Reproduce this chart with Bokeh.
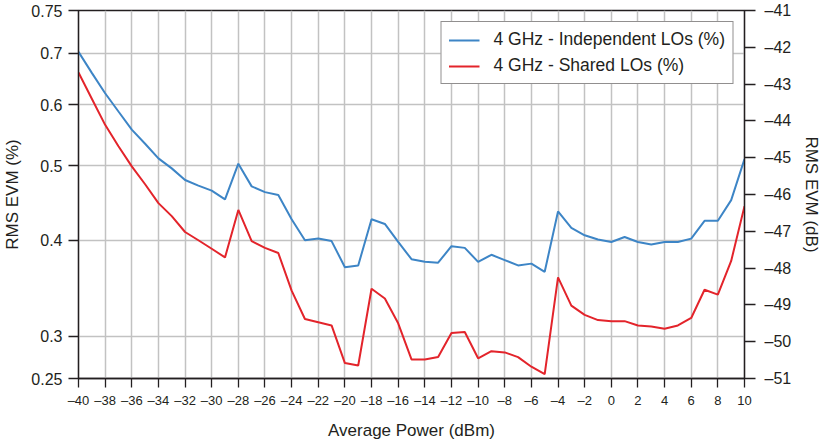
from bokeh.plotting import figure
from bokeh.models import (Range1d, LinearAxis, FixedTicker, CustomJSTickFormatter,
                          Legend, LegendItem, LinearScale, ColumnDataSource)
from bokeh.embed import file_html
from bokeh.resources import INLINE

# ---------------- data ----------------
power_dbm = list(range(-40, 11))
independent_los = [0.703, 0.660, 0.621, 0.588, 0.557, 0.534, 0.511, 0.496, 0.479, 0.471,
                   0.464, 0.452, 0.503, 0.470, 0.462, 0.458, 0.426, 0.400, 0.402, 0.399,
                   0.369, 0.371, 0.426, 0.420, 0.398, 0.378, 0.375, 0.374, 0.393, 0.391,
                   0.375, 0.383, 0.377, 0.371, 0.373, 0.364, 0.436, 0.415, 0.406, 0.401,
                   0.398, 0.404, 0.398, 0.395, 0.398, 0.398, 0.402, 0.424, 0.424, 0.451,
                   0.510]
shared_los = [0.661, 0.611, 0.565, 0.530, 0.499, 0.473, 0.447, 0.430, 0.410, 0.400,
              0.390, 0.380, 0.438, 0.399, 0.391, 0.385, 0.344, 0.316, 0.313, 0.310,
              0.277, 0.275, 0.346, 0.336, 0.312, 0.280, 0.280, 0.282, 0.303, 0.304,
              0.281, 0.287, 0.286, 0.282, 0.274, 0.268, 0.358, 0.329, 0.320, 0.315,
              0.314, 0.314, 0.310, 0.309, 0.307, 0.310, 0.317, 0.345, 0.340, 0.376,
              0.443]
series_names = ["4 GHz - Independent LOs (%)", "4 GHz - Shared LOs (%)"]

x_ticks = list(range(-40, 11, 2))
left_tick_values = [0.2645, 0.3, 0.4, 0.5, 0.6, 0.7, 0.7955]
left_tick_labels = ["0.25", "0.3", "0.4", "0.5", "0.6", "0.7", "0.75"]
right_ticks = list(range(-51, -40))

FONT = "Liberation Sans"
BLUE = "#3d85c6"
RED = "#e3242b"
DARK = "#231f20"

p = figure(width=827, height=442, y_axis_type="log",
           x_range=Range1d(-40, 10), y_range=Range1d(left_tick_values[0], left_tick_values[-1]),
           output_backend="svg", toolbar_location=None,
           min_border_left=77, min_border_right=83, min_border_top=10, min_border_bottom=62)
p.extra_y_ranges = {"db": Range1d(right_ticks[0], right_ticks[-1])}
p.extra_y_scales = {"db": LinearScale()}

src = ColumnDataSource(dict(x=power_dbm, a=independent_los, b=shared_los))
r1 = p.line("x", "a", source=src, line_color=BLUE, line_width=2)
r2 = p.line("x", "b", source=src, line_color=RED, line_width=2)

dash_fmt = CustomJSTickFormatter(code="return tick < 0 ? '\u2013' + Math.abs(tick) : String(tick);")
left_fmt = CustomJSTickFormatter(args=dict(vals=left_tick_values, labs=left_tick_labels), code="""
let b = 0;
for (let i = 0; i < vals.length; i++) {
  if (Math.abs(vals[i] - tick) < Math.abs(vals[b] - tick)) b = i;
}
return labs[b];
""")

# x axis
xa = p.xaxis[0]
xa.ticker = FixedTicker(ticks=x_ticks)
xa.formatter = dash_fmt
xa.axis_label = "Average Power (dBm)"

# left axis
ya = p.yaxis[0]
ya.ticker = FixedTicker(ticks=left_tick_values)
ya.formatter = left_fmt
ya.axis_label = "RMS EVM (%)"

# right axis
ra = LinearAxis(y_range_name="db", ticker=FixedTicker(ticks=right_ticks), formatter=dash_fmt,
                axis_label="RMS EVM (dB)")
p.add_layout(ra, "right")

for ax in (xa, ya, ra):
    ax.axis_line_color = DARK
    ax.axis_line_width = 1.3
    ax.major_tick_line_color = DARK
    ax.major_tick_line_width = 1.3
    ax.major_tick_in = 0
    ax.minor_tick_line_color = None
    ax.major_label_text_font = FONT
    ax.major_label_text_color = DARK
    ax.axis_label_text_font = FONT
    ax.axis_label_text_font_style = "normal"
    ax.axis_label_text_color = DARK
    ax.axis_label_text_font_size = "17px"

xa.major_tick_out = 9
xa.major_label_text_font_size = "13px"
xa.major_label_standoff = 5
xa.axis_label_standoff = 10

ya.major_tick_out = 10
ya.major_label_text_font_size = "16px"
ya.major_label_standoff = 6
ya.axis_label_standoff = 6

ra.major_tick_out = 11
ra.major_label_text_font_size = "16px"
ra.major_label_standoff = 9
ra.axis_label_standoff = 8

p.xgrid.grid_line_color = "#c2c2c2"
p.xgrid.grid_line_width = 1.5
p.ygrid.grid_line_color = "#c2c2c2"
p.ygrid.grid_line_width = 1.5

p.outline_line_color = DARK
p.outline_line_width = 1.3
p.background_fill_color = "white"
p.border_fill_color = "white"

legend = Legend(items=[LegendItem(label=series_names[0], renderers=[r1]),
                       LegendItem(label=series_names[1], renderers=[r2])],
                location="top_right", margin=11, padding=7, spacing=5,
                glyph_width=31, glyph_height=18, label_height=18, label_standoff=14,
                label_text_font=FONT, label_text_font_size="17.5px", label_text_color=DARK,
                border_line_color=DARK, border_line_width=1.2, background_fill_alpha=1.0)
p.add_layout(legend)

open("out.html", "w").write(file_html(p, INLINE))
